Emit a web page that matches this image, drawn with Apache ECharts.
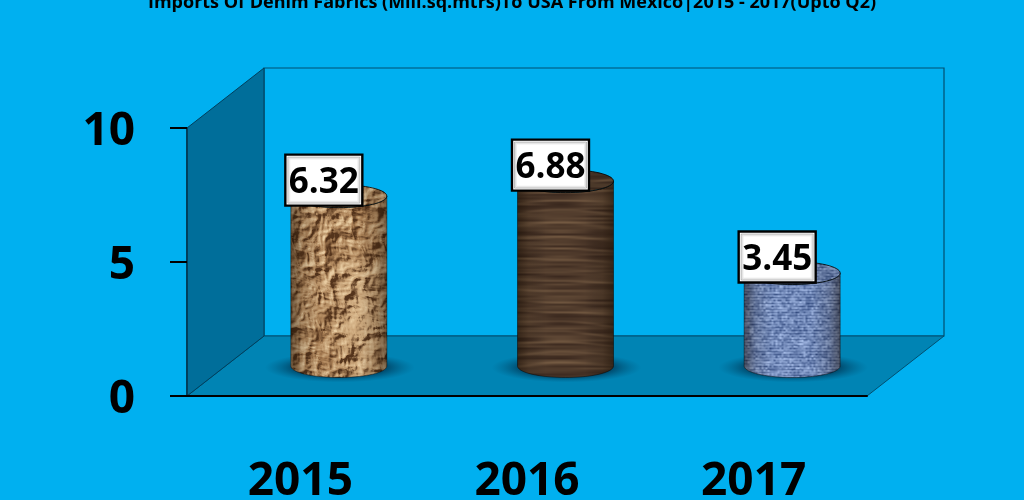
<!DOCTYPE html>
<html><head><meta charset="utf-8">
<style>html,body{margin:0;padding:0;background:#00B0F0}#c{width:1024px;height:500px}</style>
<script src="https://cdn.jsdelivr.net/npm/echarts@6/dist/echarts.min.js"></script>
</head><body><div id="c"></div>
<script>
const titleText = 'Imports Of Denim Fabrics (Mill.sq.mtrs)To USA From Mexico|2015 - 2017(Upto Q2)';
const categories = ['2015', '2016', '2017'];
const values = [6.32, 6.88, 3.45];
const yMin = 0, yMax = 10, yStep = 5;

const FONT = '"Open Sans"';
const DEPTH_X = 77, DEPTH_Y = -60;
const RX = 48, RY = 11.5;

/* deterministic periodic lattice noise, used only for the surface textures */
function noise(s, u, v, px, py) {
  const x = u * px, y = v * py, i = Math.floor(x), j = Math.floor(y);
  let fx = x - i, fy = y - j;
  fx = fx * fx * (3 - 2 * fx); fy = fy * fy * (3 - 2 * fy);
  const g = (a, b) => {
    const ii = ((a % px) + px) % px, jj = ((b % py) + py) % py;
    const h = Math.sin(ii * 127.1 + jj * 311.7 + s * 74.7) * 43758.5453;
    return h - Math.floor(h);
  };
  return (g(i, j) * (1 - fx) + g(i + 1, j) * fx) * (1 - fy) + (g(i, j + 1) * (1 - fx) + g(i + 1, j + 1) * fx) * fy;
}
function makeTexture(fn) {
  const S = 240, cv = document.createElement('canvas');
  cv.width = S; cv.height = S;
  const ctx = cv.getContext('2d'), im = ctx.createImageData(S, S);
  for (let y = 0; y < S; y++) for (let x = 0; x < S; x++) {
    const c = fn(x, y, S), k = (y * S + x) * 4;
    im.data[k] = c[0]; im.data[k + 1] = c[1]; im.data[k + 2] = c[2]; im.data[k + 3] = 255;
  }
  ctx.putImageData(im, 0, 0);
  return cv;
}
const mix = (a, b, t) => { t = Math.max(0, Math.min(1, t)); return [a[0] + (b[0] - a[0]) * t, a[1] + (b[1] - a[1]) * t, a[2] + (b[2] - a[2]) * t]; };

function crumpleH(x, y, S) {
  const u = x / S, v = y / S;
  const w1 = noise(9, u, v, 10, 10), w2 = noise(10, u, v, 10, 10);
  const uu = u + (w1 - .5) * .03, vv = v + (w2 - .5) * .03;
  let h = 0, a = 1;
  [[12, 1], [24, 2], [48, 3], [96, 4]].forEach(o => {
    const n = noise(o[1], uu, vv, o[0], o[0]);
    h += a * Math.abs(2 * n - 1);
    a *= .55;
  });
  return h;
}
const texPaper = makeTexture((x, y, S) => {
  const d = crumpleH(x + 1, y + 1, S) - crumpleH(x - 1, y - 1, S);
  const base = mix([166, 124, 82], [208, 172, 128], noise(5, x / S, y / S, 6, 6));
  return d > 0 ? mix(base, [84, 52, 28], d * 3.2) : mix(base, [232, 204, 162], -d * 2.2);
});
const texWood = makeTexture((x, y, S) => {
  const u = x / S, v = y / S;
  const warp = noise(1, u, v, 3, 8) * 1.2;
  const r = Math.sin((v * 22 + warp) * Math.PI * 2) * .5 + .5;
  const fine = noise(2, u, v, 6, 120);
  const t = .35 * Math.pow(r, 5) + .65 * fine;
  return mix([58, 40, 30], [116, 90, 66], t);
});
const texDenim = makeTexture((x, y, S) => {
  const u = x / S, v = y / S;
  const n = noise(3, u, v, 120, 120) * .5 + noise(4, u, v, 60, 160) * .3 + noise(6, u, v, 40, 40) * .2;
  const weave = (y % 3 === 0) ? -.12 : .06;
  return mix([52, 76, 128], [176, 198, 240], n + weave);
});
const textures = [texPaper, texWood, texDenim];

function cylinderBody(cx, yt, yb) {
  const pts = [], N = 36;
  for (let i = 0; i <= N; i++) { const a = Math.PI * i / N; pts.push([cx - RX * Math.cos(a), yb + RY * Math.sin(a)]); }
  for (let i = 0; i <= N; i++) { const a = Math.PI * i / N; pts.push([cx + RX * Math.cos(a), yt + RY * Math.sin(a)]); }
  return pts;
}

function renderWalls(params) {
  const g = params.coordSys, L = g.x, R = g.x + g.width, T = g.y, B = g.y + g.height;
  const dx = DEPTH_X, dy = DEPTH_Y;
  return { type: 'group', children: [
    { type: 'rect', shape: { x: L + dx, y: T + dy, width: g.width, height: g.height }, style: { fill: 'none', stroke: '#004F70', lineWidth: 1.2 } },
    { type: 'polygon', shape: { points: [[L, B], [R, B], [R + dx, B + dy], [L + dx, B + dy]] }, style: { fill: '#0084B4', stroke: '#004F70', lineWidth: 1 } },
    { type: 'polygon', shape: { points: [[L, T], [L + dx, T + dy], [L + dx, B + dy], [L, B]] }, style: { fill: '#006E9A', stroke: '#003F5C', lineWidth: 1 } }
  ] };
}

function renderBar(params, api) {
  const i = api.value(0), v = api.value(1);
  const top = api.coord([i, v]), base = api.coord([i, 0]);
  const cx = top[0] + DEPTH_X / 2, yt = top[1] + DEPTH_Y / 2 - 0.5, yb = base[1] + DEPTH_Y / 2;
  const pts = cylinderBody(cx, yt, yb);
  const tex = { image: textures[i], repeat: 'repeat' };
  const bw = 77, bh = 51, bx = cx - 15 - bw / 2, by = yt - 16 - bh / 2;
  const inset = [2.5, 3.5, 4.5].map((d, k) => ({
    type: 'rect', shape: { x: bx + d, y: by + d, width: bw - 2 * d, height: bh - 2 * d },
    style: { fill: 'none', stroke: 'rgba(0,0,0,' + [.26, .13, .06][k] + ')', lineWidth: 1 }
  }));
  return { type: 'group', children: [
    { type: 'circle', x: cx + 1, y: yb + 1.5, scaleX: 5, scaleY: 1,
      shape: { cx: 0, cy: 0, r: 15 },
      style: { fill: { type: 'radial', x: .5, y: .5, r: .5, colorStops: [
        { offset: 0, color: 'rgba(0,50,80,.85)' }, { offset: .62, color: 'rgba(0,55,85,.72)' }, { offset: 1, color: 'rgba(0,90,130,0)' }] } } },
    { type: 'polygon', shape: { points: pts }, style: { fill: tex, stroke: 'none' } },
    { type: 'polygon', shape: { points: pts }, style: {
      fill: { type: 'linear', x: 0, y: 0, x2: 1, y2: 0, colorStops: [
        { offset: 0, color: 'rgba(20,10,0,.5)' }, { offset: .12, color: 'rgba(20,10,0,.16)' }, { offset: .3, color: 'rgba(0,0,0,0)' },
        { offset: .7, color: 'rgba(0,0,0,0)' }, { offset: .88, color: 'rgba(20,10,0,.18)' }, { offset: 1, color: 'rgba(20,10,0,.5)' }] },
      stroke: 'rgba(0,0,0,.55)', lineWidth: .8 } },
    { type: 'ellipse', shape: { cx: cx, cy: yt, rx: RX, ry: RY }, style: { fill: tex, stroke: 'rgba(0,0,0,.8)', lineWidth: 1 } },
    { type: 'ellipse', shape: { cx: cx, cy: yt, rx: RX, ry: RY }, style: { fill: 'rgba(0,0,0,.15)' } },
    { type: 'rect', shape: { x: bx, y: by, width: bw, height: bh }, style: { fill: '#fff', stroke: '#000', lineWidth: 2.4 } },
    ...inset,
    { type: 'text', x: bx + bw / 2, y: by + bh / 2 + 3, style: { text: values[i].toFixed(2), font: 'bold 35px ' + FONT, fill: '#000', align: 'center', verticalAlign: 'middle' } }
  ] };
}

const chart = echarts.init(document.getElementById('c'), null, { renderer: 'canvas', width: 1024, height: 500 });
chart.setOption({
  animation: false,
  backgroundColor: '#00B0F0',
  title: { text: titleText, left: 'center', top: -6, padding: 0, textStyle: { fontFamily: FONT, fontWeight: 'bold', fontSize: 18, color: '#000' } },
  grid: { left: 187, right: 157, top: 128, bottom: 104, containLabel: false, outerBoundsMode: 'none' },
  xAxis: { type: 'category', data: categories, z: 5,
    axisLine: { lineStyle: { color: '#000', width: 2 } }, axisTick: { show: false },
    axisLabel: { margin: 63, interval: 0, fontFamily: FONT, fontWeight: 'bold', fontSize: 46, color: '#000' } },
  yAxis: { type: 'value', min: yMin, max: yMax, interval: yStep, z: 5,
    axisLine: { show: true, lineStyle: { color: '#003F5C', width: 2 } },
    axisTick: { show: true, length: 17, lineStyle: { color: '#000', width: 2 } },
    splitLine: { show: false },
    axisLabel: { margin: 52, formatter: '{v|{value}}', color: '#000', fontFamily: FONT, fontWeight: 'bold', fontSize: 46,
      rich: { v: { padding: [8, 0, 0, 0], fontFamily: FONT, fontWeight: 'bold', fontSize: 46, color: '#000' } } } },
  series: [
    { type: 'custom', name: 'walls', z: 1, silent: true, renderItem: renderWalls, data: [[0, 0]], encode: { x: 0, y: 1 } },
    { type: 'custom', name: 'Imports', z: 2, silent: true, renderItem: renderBar,
      data: values.map((v, i) => [i, v]), encode: { x: 0, y: 1 } }
  ]
});
</script></body></html>
